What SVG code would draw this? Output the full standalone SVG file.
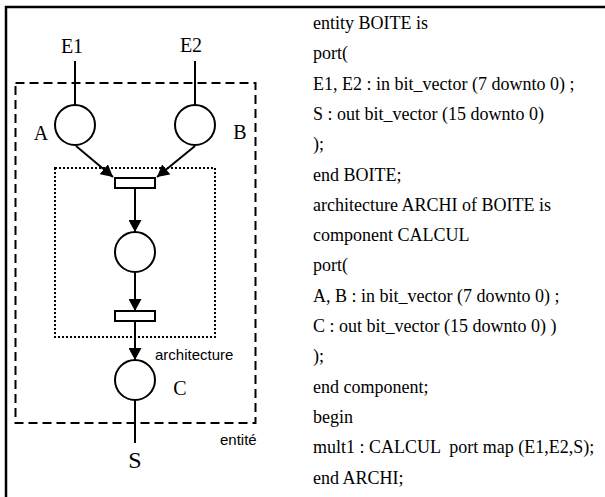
<svg xmlns="http://www.w3.org/2000/svg" width="605" height="497" viewBox="0 0 605 497">
<style>
.serif{font-family:"Liberation Serif","Times New Roman",serif;fill:#000}
.sans{font-family:"Liberation Sans",Arial,sans-serif;fill:#000;font-size:15px}
.code{font-family:"Liberation Serif","Times New Roman",serif;font-size:18px;fill:#000}
.place{fill:#fff;stroke:#000;stroke-width:2}
.trans{fill:#fff;stroke:#000;stroke-width:2}
.wire{stroke:#000;stroke-width:2;fill:none}
</style>
<defs>
<marker id="arr" markerUnits="userSpaceOnUse" markerWidth="13" markerHeight="13" refX="12" refY="6.5" orient="auto">
<path d="M0,0 L12,6.5 L0,13 z" fill="#000"/>
</marker>
</defs>
<rect width="605" height="497" fill="#fff"/>
<g id="frame">
<line x1="5" y1="7" x2="605" y2="7" stroke="#000" stroke-width="2.5"/>
<line x1="6" y1="6" x2="6" y2="497" stroke="#000" stroke-width="2.5"/>
</g>
<g id="entite">
<rect x="15.5" y="83" width="240" height="340" fill="none" stroke="#000" stroke-width="2" stroke-dasharray="9 5"/>
<text class="sans" x="220" y="445">entité</text>
</g>
<g id="architecture">
<rect x="55" y="168" width="160" height="169" fill="none" stroke="#000" stroke-width="2" stroke-dasharray="2 2"/>
<text class="sans" x="155" y="360">architecture</text>
</g>
<g id="connectors">
<line class="wire" x1="75" y1="61" x2="75" y2="105"/>
<line class="wire" x1="195" y1="61" x2="195" y2="105"/>
<line class="wire" x1="76" y1="146" x2="113" y2="177" marker-end="url(#arr)"/>
<line class="wire" x1="195" y1="146" x2="157" y2="177" marker-end="url(#arr)"/>
<line class="wire" x1="135" y1="188" x2="135" y2="232" marker-end="url(#arr)"/>
<line class="wire" x1="135" y1="272" x2="135" y2="311" marker-end="url(#arr)"/>
<line class="wire" x1="135" y1="321" x2="135" y2="360" marker-end="url(#arr)"/>
<line class="wire" x1="135" y1="400" x2="135" y2="443"/>
</g>
<g id="E1"><text class="serif" x="72" y="53" font-size="20" text-anchor="middle">E1</text></g>
<g id="E2"><text class="serif" x="191" y="52" font-size="20" text-anchor="middle">E2</text></g>
<g id="A">
<circle class="place" cx="75" cy="125" r="20"/>
<text class="serif" x="41" y="140" font-size="20" text-anchor="middle">A</text>
</g>
<g id="B">
<circle class="place" cx="195" cy="125" r="20"/>
<text class="serif" x="240" y="139" font-size="20" text-anchor="middle">B</text>
</g>
<g id="T1"><rect class="trans" x="115" y="178" width="40" height="10"/></g>
<g id="P"><circle class="place" cx="135" cy="252" r="20"/></g>
<g id="T2"><rect class="trans" x="115" y="311" width="40" height="10"/></g>
<g id="C">
<circle class="place" cx="135" cy="380" r="20"/>
<text class="serif" x="180" y="395" font-size="20" text-anchor="middle">C</text>
</g>
<g id="S"><text class="serif" x="135" y="468" font-size="24" text-anchor="middle">S</text></g>
<g id="code">
<text class="code" x="313" y="29">entity BOITE is</text>
<text class="code" x="313" y="59.3">port(</text>
<text class="code" x="313" y="89.6">E1, E2 : in bit_vector (7 downto 0) ;</text>
<text class="code" x="313" y="119.9">S : out bit_vector (15 downto 0)</text>
<text class="code" x="313" y="150.2">);</text>
<text class="code" x="313" y="180.5">end BOITE;</text>
<text class="code" x="313" y="210.8">architecture ARCHI of BOITE is</text>
<text class="code" x="313" y="241.1">component CALCUL</text>
<text class="code" x="313" y="271.4">port(</text>
<text class="code" x="313" y="301.7">A, B : in bit_vector (7 downto 0) ;</text>
<text class="code" x="313" y="332">C : out bit_vector (15 downto 0) )</text>
<text class="code" x="313" y="362.3">);</text>
<text class="code" x="313" y="392.6">end component;</text>
<text class="code" x="313" y="422.9">begin</text>
<text class="code" x="313" y="453.2" xml:space="preserve">mult1 : CALCUL  port map (E1,E2,S);</text>
<text class="code" x="313" y="483.5">end ARCHI;</text>
</g>
</svg>
